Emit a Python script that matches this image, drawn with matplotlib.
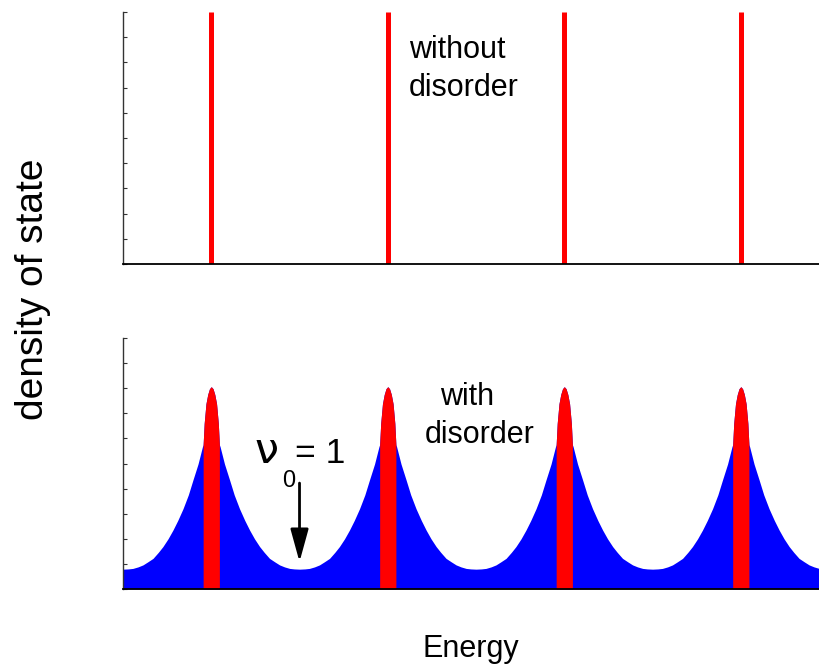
import numpy as np
import matplotlib
matplotlib.use("Agg")
import matplotlib.pyplot as plt

plt.rcParams['font.family'] = ['Liberation Sans', 'DejaVu Sans']

# ---- data ----
peak_energies = [0.5, 1.5, 2.5, 3.5]          # Landau level positions
band_half_width = 0.046                        # half width of red (extended) band
# density profile vs distance from a level centre (half period)
profile_offset = [0.0, 0.01, 0.02, 0.03, 0.04, 0.046, 0.05, 0.075, 0.104, 0.13,
                  0.16, 0.19, 0.217, 0.245, 0.274, 0.30, 0.33, 0.36, 0.387,
                  0.415, 0.444, 0.47, 0.5]
profile_density = [8.06, 7.98, 7.75, 7.38, 6.6, 5.75, 5.67, 4.98, 4.34, 3.75,
                   3.20, 2.73, 2.35, 2.00, 1.69, 1.46, 1.22, 1.08, 0.96,
                   0.88, 0.82, 0.80, 0.79]
x_max = 3.943
y_max = 10

d = np.array(profile_offset)
v = np.array(profile_density)

fig = plt.figure(figsize=(8.19, 6.66), dpi=100)
ax1 = fig.add_axes([123/819, (666-264)/666, 1-123/819, 252/666])
ax2 = fig.add_axes([123/819, (666-589)/666, 1-123/819, 251/666])

for ax in (ax1, ax2):
    ax.set_xlim(0, x_max)
    ax.set_ylim(0, y_max)
    ax.spines['top'].set_visible(False)
    ax.spines['right'].set_visible(False)
    ax.spines['left'].set_linewidth(1.0)
    ax.spines['left'].set_color('#333333')
    ax.spines['bottom'].set_linewidth(1.3)
    ax.set_xticks([])
    ax.set_yticks(range(0, y_max + 1))
    ax.tick_params(axis='y', direction='in', length=3, width=0.8,
                   labelleft=False, color='#333333')

# top panel: sharp levels without disorder
ax1.vlines(peak_energies, 0, y_max, color='#ff0000', lw=3.6)
ax1.text(1.62, 8.17, 'without', fontsize=22, ha='left', va='baseline')
ax1.text(1.62, 6.67, 'disorder', fontsize=22, ha='left', va='baseline')

# bottom panel: broadened levels
energy = []
density = []
for c in peak_energies:
    energy.extend(list(c - d[::-1]) + list(c + d[1:]))
    density.extend(list(v[::-1]) + list(v[1:]))
ax2.fill_between(energy, 0, density, color='#0000ff', lw=0)

sel = d <= band_half_width + 1e-9
for c in peak_energies:
    xs = list(c - d[sel][::-1]) + list(c + d[sel][1:])
    ys = list(v[sel][::-1]) + list(v[sel][1:])
    ax2.fill_between(xs, 0, ys, color='#ff0000', lw=0)

ax2.text(1.796, 7.33, 'with', fontsize=22, ha='left', va='baseline')
ax2.text(1.711, 5.83, 'disorder', fontsize=22, ha='left', va='baseline')

ax2.text(0.745, 5.02, '\u03bd', fontsize=31, ha='left', va='baseline',
         family='DejaVu Sans')
ax2.text(0.901, 4.06, '0', fontsize=17, ha='left', va='baseline')
ax2.text(0.975, 5.02, '= 1', fontsize=25.5, ha='left', va='baseline')

ax2.annotate('', xy=(1.0, 1.08), xytext=(1.0, 4.22),
             arrowprops=dict(arrowstyle='-|>,head_length=0.8,head_width=0.22',
                             mutation_scale=25, lw=2, color='k',
                             shrinkA=0, shrinkB=0))

ax2.set_xlabel('Energy', fontsize=22)
ax2.xaxis.label.set_va('baseline')
ax2.xaxis.set_label_coords(0.5, (589-656.7)/251)

fig.text(33/819, (666-289)/666, 'density of state', fontsize=28,
         rotation=90, ha='center', va='center')

fig.savefig('out.png', dpi=100)
